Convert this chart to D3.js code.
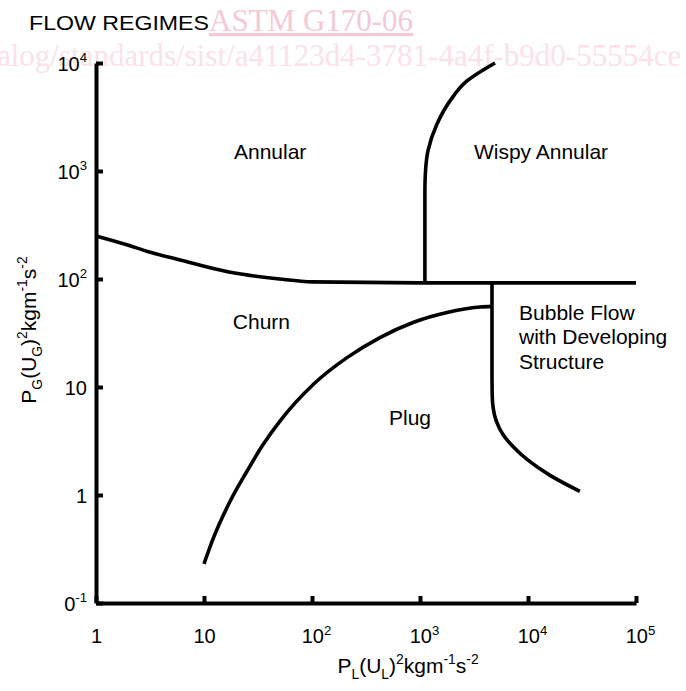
<!DOCTYPE html>
<html>
<head>
<meta charset="utf-8">
<script src="https://cdn.jsdelivr.net/npm/d3@7"></script>
<style>
  body { margin: 0; background: #fff; }
  svg { display: block; }
</style>
</head>
<body>
<div id="chart"></div>
<script>
// tick values and labels (base + exponent)
var xTicks = [1, 10, 100, 1000, 10000, 100000];
var xTickBase = ["1", "10", "10", "10", "10", "10"];
var xTickExp = ["", "", "2", "3", "4", "5"];
var yTicks = [0.1, 1, 10, 100, 1000, 10000];
var yTickBase = ["0", "1", "10", "10", "10", "10"];
var yTickExp = ["-1", "", "", "2", "3", "4"];

// annular / churn boundary
var annularX = [1, 2, 3, 6, 17, 50, 100, 1000, 10000, 100000];
var annularY = [250, 205, 180, 150, 116, 100, 94, 92, 92, 92];
// annular / wispy annular boundary
var wispyX = [1110, 1110, 1110, 1125, 1186, 1437, 1897, 2723, 4950];
var wispyY = [92, 300, 650, 1000, 1540, 2730, 4460, 6820, 10000];
// churn / plug boundary
var plugX = [10, 12.1, 17.4, 25, 35, 50.5, 102, 211, 426, 861, 1780, 3590, 4640];
var plugY = [0.23, 0.39, 0.87, 1.66, 2.9, 4.84, 10.5, 18.7, 28.7, 39.6, 49, 55, 55.8];
// plug / bubble flow boundary
var bubbleX = [4640, 4640, 4660, 4760, 5100, 5900, 7300, 10000, 16000, 30200];
var bubbleY = [92, 14, 8.5, 6.4, 4.8, 3.6, 2.8, 2.1, 1.52, 1.08];

// region labels
var regionNames = ["Annular", "Wispy Annular", "Churn", "Plug"];
var regionX = [41, 13200, 34, 808];
var regionY = [1500, 1500, 40, 5.2];
var bubbleLines = ["Bubble Flow", "with Developing", "Structure"];

var width = 686, height = 691;
var font = "'Liberation Sans', Arial, Helvetica, sans-serif";

var svg = d3.select("#chart").append("svg")
    .attr("width", width)
    .attr("height", height);

var x = d3.scaleLog().domain([1, 100000]).range([96, 636]);
var y = d3.scaleLog().domain([0.1, 10000]).range([603, 63]);

// watermark
svg.append("text")
    .attr("x", 209).attr("y", 31)
    .attr("font-family", "'Liberation Serif', 'Times New Roman', serif")
    .attr("font-size", 31)
    .attr("fill", "#f4c9d4")
    .attr("text-decoration", "underline")
    .text("ASTM G170-06");
svg.append("text")
    .attr("x", -3).attr("y", 66)
    .attr("font-family", "'Liberation Serif', 'Times New Roman', serif")
    .attr("font-size", 31)
    .attr("fill", "#fbe2e8")
    .text("alog/standards/sist/a41123d4-3781-4a4f-b9d0-55554ce");

svg.append("text")
    .attr("x", 29).attr("y", 30)
    .attr("font-family", font)
    .attr("font-size", 20)
    .attr("textLength", 180)
    .attr("lengthAdjust", "spacingAndGlyphs")
    .attr("fill", "#000")
    .text("FLOW REGIMES");

// text with sub/superscripts, shifts in pixels
function richPx(sel, parts, size) {
  var off = 0;
  parts.forEach(function(p) {
    var target = p.s == "sup" ? -0.42 * size : (p.s == "sub" ? 0.28 * size : 0);
    sel.append("tspan")
      .attr("dy", target - off)
      .attr("font-size", p.s ? size * 0.66 : size)
      .text(p.t);
    off = target;
  });
}

// axes
var xAxis = svg.append("g")
    .attr("transform", "translate(0," + y(0.1) + ")")
    .call(d3.axisBottom(x).tickValues(xTicks).tickSizeInner(-7).tickSizeOuter(0).tickFormat(""));
var yAxis = svg.append("g")
    .attr("transform", "translate(" + x(1) + ",0)")
    .call(d3.axisLeft(y).tickValues(yTicks).tickSizeInner(-7).tickSizeOuter(0).tickFormat(""));

svg.selectAll(".domain").attr("stroke", "#000").attr("stroke-width", 4);
svg.selectAll(".tick line").attr("stroke", "#000").attr("stroke-width", 4);

xAxis.selectAll(".tick").each(function(d, i) {
  var t = d3.select(this).append("text")
    .attr("y", 40)
    .attr("text-anchor", "middle")
    .attr("fill", "#000")
    .attr("font-family", font);
  var parts = [{t: xTickBase[i]}];
  if (xTickExp[i]) parts.push({t: xTickExp[i], s: "sup"});
  richPx(t, parts, 20);
  if (xTickExp[i]) t.attr("dx", 4);
});
yAxis.selectAll(".tick").each(function(d, i) {
  var t = d3.select(this).append("text")
    .attr("x", -9)
    .attr("y", 7)
    .attr("text-anchor", "end")
    .attr("fill", "#000")
    .attr("font-family", font);
  var parts = [{t: yTickBase[i]}];
  if (yTickExp[i]) parts.push({t: yTickExp[i], s: "sup"});
  richPx(t, parts, 20);
});

// axis titles
var xt = svg.append("text")
    .attr("x", 408).attr("y", 673)
    .attr("text-anchor", "middle")
    .attr("font-family", font)
    .attr("fill", "#000");
richPx(xt, [{t: "P"}, {t: "L", s: "sub"}, {t: "(U"}, {t: "L", s: "sub"}, {t: ")"},
            {t: "2", s: "sup"}, {t: "kgm"}, {t: "-1", s: "sup"}, {t: "s"}, {t: "-2", s: "sup"}], 21);

var yt = svg.append("text")
    .attr("transform", "translate(36,330) rotate(-90)")
    .attr("text-anchor", "middle")
    .attr("font-family", font)
    .attr("fill", "#000");
richPx(yt, [{t: "P"}, {t: "G", s: "sub"}, {t: "(U"}, {t: "G", s: "sub"}, {t: ")"},
            {t: "2", s: "sup"}, {t: "kgm"}, {t: "-1", s: "sup"}, {t: "s"}, {t: "-2", s: "sup"}], 21);

// boundaries
function zip(xs, ys) { return xs.map(function(v, i) { return [v, ys[i]]; }); }
var lineX = d3.line().x(function(d) { return x(d[0]); }).y(function(d) { return y(d[1]); })
    .curve(d3.curveMonotoneX);
var lineY = d3.line().x(function(d) { return x(d[0]); }).y(function(d) { return y(d[1]); })
    .curve(d3.curveMonotoneY);

var curves = [
  {d: zip(annularX, annularY), g: lineX},
  {d: zip(wispyX, wispyY).reverse(), g: lineY},
  {d: zip(plugX, plugY), g: lineX},
  {d: zip(bubbleX, bubbleY).reverse(), g: lineY}
];
svg.selectAll("path.boundary")
  .data(curves)
  .enter()
  .append("path")
    .attr("class", "boundary")
    .attr("d", function(c) { return c.g(c.d); })
    .attr("fill", "none")
    .attr("stroke", "#000")
    .attr("stroke-width", 3.6)
    .attr("stroke-linecap", "butt");

// region labels
svg.selectAll("text.region")
  .data(regionNames)
  .enter()
  .append("text")
    .attr("class", "region")
    .attr("x", function(d, i) { return x(regionX[i]); })
    .attr("y", function(d, i) { return y(regionY[i]) + 7; })
    .attr("text-anchor", "middle")
    .attr("font-family", font)
    .attr("font-size", 21)
    .attr("fill", "#000")
    .text(function(d) { return d; });

svg.selectAll("text.bubble")
  .data(bubbleLines)
  .enter()
  .append("text")
    .attr("class", "bubble")
    .attr("x", x(8260))
    .attr("y", function(d, i) { return y(42) + i * 24.5; })
    .attr("font-family", font)
    .attr("font-size", 21)
    .attr("fill", "#000")
    .text(function(d) { return d; });
</script>
</body>
</html>
